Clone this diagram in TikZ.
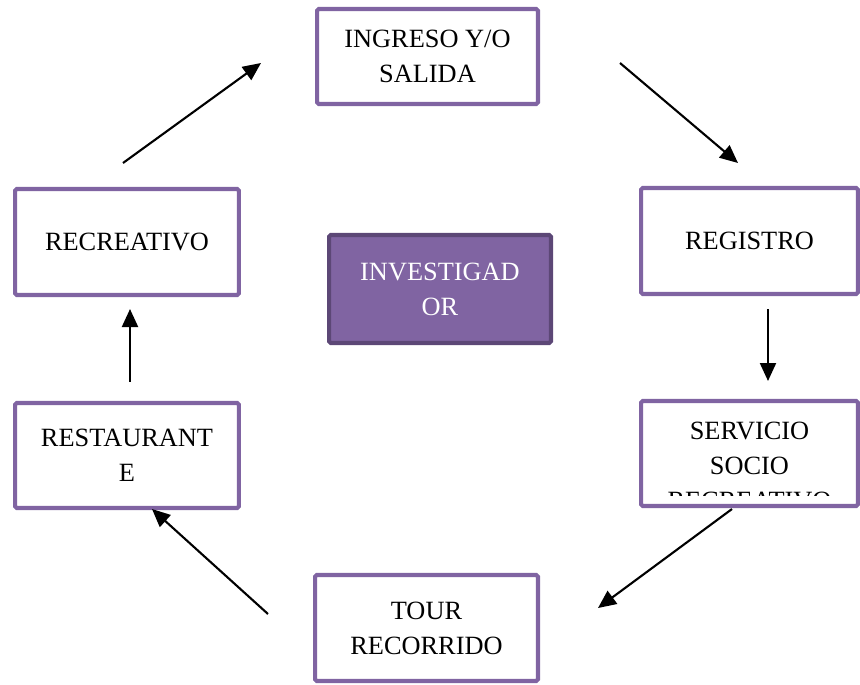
\documentclass[tikz,border=0pt]{standalone}
\usepackage{fontspec}
\setmainfont{Liberation Serif}
\usetikzlibrary{arrows.meta}
\definecolor{lila}{HTML}{8064A2}
\definecolor{lilaosc}{HTML}{5C4776}
\begin{document}
\begin{tikzpicture}[x=0.02cm, y=-0.02cm,
  box/.style={rectangle, rounded corners=1pt, draw=lila, line width=2.3pt, fill=white, align=center, font=\fontsize{15}{19.9}\selectfont, inner sep=0pt},
  core/.style={box, draw=lilaosc, fill=lila, text=white},
  arr/.style={line width=1.2pt, -{Triangle[length=0.36cm, width=0.32cm]}}]
\useasboundingbox (0,0) rectangle (860,684);
\node[box, minimum width=4.42cm, minimum height=1.9cm] (ingr) at (427.5,56.5) {INGRESO Y/O\\SALIDA};
\node[box, minimum width=4.34cm, minimum height=2.12cm] (regi) at (749.5,241) {REGISTRO};
\node[box, minimum width=4.34cm, minimum height=2.1cm] (serv) at (749.5,453.5) {};
\begin{scope}
  \clip (643,403) rectangle (856,495);
  \node[box, draw=none, fill=none] (servtxt) at (749.5,466) {SERVICIO\\SOCIO\\RECREATIVO};
\end{scope}
\node[box, minimum width=4.46cm, minimum height=2.12cm] (tour) at (426.5,628) {TOUR\\RECORRIDO};
\node[box, minimum width=4.48cm, minimum height=2.1cm] (rest) at (127,455.5) {RESTAURANT\\E};
\node[box, minimum width=4.48cm, minimum height=2.12cm] (recr) at (127,242) {RECREATIVO};
\node[core, minimum width=4.44cm, minimum height=2.16cm] (inv) at (440,289) {INVESTIGAD\\OR};
\draw[arr] ([shift={(-4,-24)}]recr.north) -- ([shift={(-54,6.5)}]ingr.west);
\draw[arr] ([shift={(80,6.5)}]ingr.east) -- ([shift={(-11.5,-23)}]regi.north);
\draw[arr] ([shift={(18.5,13)}]regi.south) -- ([shift={(18.5,-18)}]serv.north);
\draw[arr] ([shift={(-17.5,1)}]serv.south) -- ([shift={(58,-20)}]tour.east);
\draw[arr] ([shift={(-45,-14)}]tour.west) -- ([shift={(25,-1)}]rest.south);
\draw[arr] ([shift={(3,-19)}]rest.north) -- ([shift={(3,12)}]recr.south);
\end{tikzpicture}
\end{document}
